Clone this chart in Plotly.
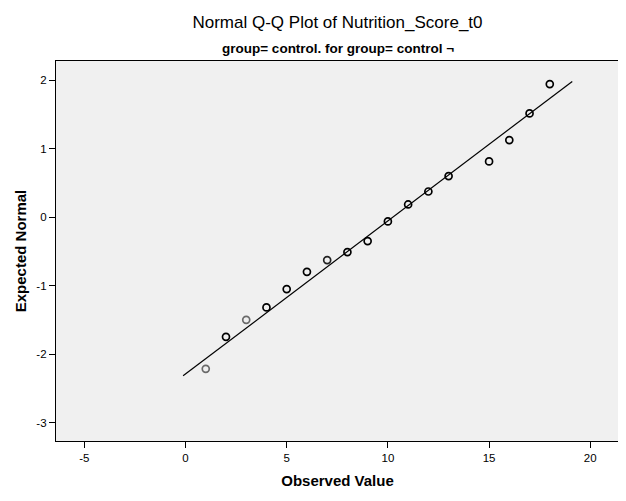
import plotly.graph_objects as go

# Data
observed = [1, 2, 3, 4, 5, 6, 7, 8, 9, 10, 11, 12, 13, 15, 16, 17, 18]
expected = [-2.215, -1.747, -1.499, -1.318, -1.050, -0.797, -0.626, -0.509,
            -0.348, -0.061, 0.187, 0.377, 0.602, 0.816, 1.128, 1.518, 1.947]
# single (lighter) vs repeated (darker) observations
point_colors = ["#6a6a6a", "#000000", "#6a6a6a", "#000000", "#000000", "#000000",
                "#222222", "#000000", "#000000", "#000000", "#000000", "#000000",
                "#000000", "#000000", "#000000", "#000000", "#000000"]
line_x = [-0.12, 19.11]
line_y = [-2.317, 1.985]

x_ticks = [-5, 0, 5, 10, 15, 20]
y_ticks = [-3, -2, -1, 0, 1, 2]

title_text = "Normal Q-Q Plot of Nutrition_Score_t0"
subtitle_text = "group= control. for group= control \u00ac"
x_title = "Observed Value"
y_title = "Expected Normal"

FONT = "Liberation Sans, Arial, sans-serif"

# page body adds an 8px offset, so the figure is drawn 8px smaller
OFF = 8
W, H = 626 - OFF, 501 - OFF
ML, MT = 56 - OFF, 61 - OFF
MR = W - (619 - OFF)
MB = H - (441 - OFF)
plot_h = H - MT - MB

fig = go.Figure()
fig.add_trace(go.Scatter(
    x=line_x, y=line_y, mode="lines",
    line=dict(color="black", width=1.2),
    hoverinfo="skip", showlegend=False,
))
fig.add_trace(go.Scatter(
    x=observed, y=expected, mode="markers",
    marker=dict(symbol="circle-open", size=7, color=point_colors,
                line=dict(width=1.7, color=point_colors)),
    showlegend=False,
))

fig.update_layout(
    width=W, height=H,
    margin=dict(l=ML, r=MR, t=MT, b=MB, autoexpand=False),
    paper_bgcolor="white",
    plot_bgcolor="#F0F0F0",
    font=dict(family=FONT, color="black", size=11),
    title=dict(text=title_text, x=0.5, xanchor="center", xref="paper",
               y=1 - (22 - OFF) / H, yanchor="middle", yref="container",
               font=dict(size=17, family=FONT, color="black")),
    annotations=[dict(
        text="<b>" + subtitle_text + "</b>", xref="paper", yref="paper",
        x=0.5, y=1 + (MT - (48 - OFF)) / plot_h, xanchor="center", yanchor="middle",
        showarrow=False, font=dict(size=13.5, family=FONT, color="black"),
    )],
    xaxis=dict(
        range=[-6.40, 21.42], tickvals=x_ticks, ticktext=[str(v) for v in x_ticks],
        showgrid=False, zeroline=False, showline=True, linecolor="black",
        linewidth=1.3, mirror=True, ticks="outside", ticklen=6, tickwidth=1,
        tickcolor="black", tickfont=dict(size=11.5),
        title=dict(text="<b>" + x_title + "</b>", font=dict(size=15), standoff=12),
    ),
    yaxis=dict(
        range=[-3.27, 2.284], tickvals=y_ticks, ticktext=[str(v) for v in y_ticks],
        showgrid=False, zeroline=False, showline=True, linecolor="black",
        linewidth=1.3, mirror=True, ticks="outside", ticklen=6, tickwidth=1,
        tickcolor="black", tickfont=dict(size=11.5),
        title=dict(text="<b>" + y_title + "</b>", font=dict(size=15), standoff=6),
    ),
)

fig.write_html("out.html")
